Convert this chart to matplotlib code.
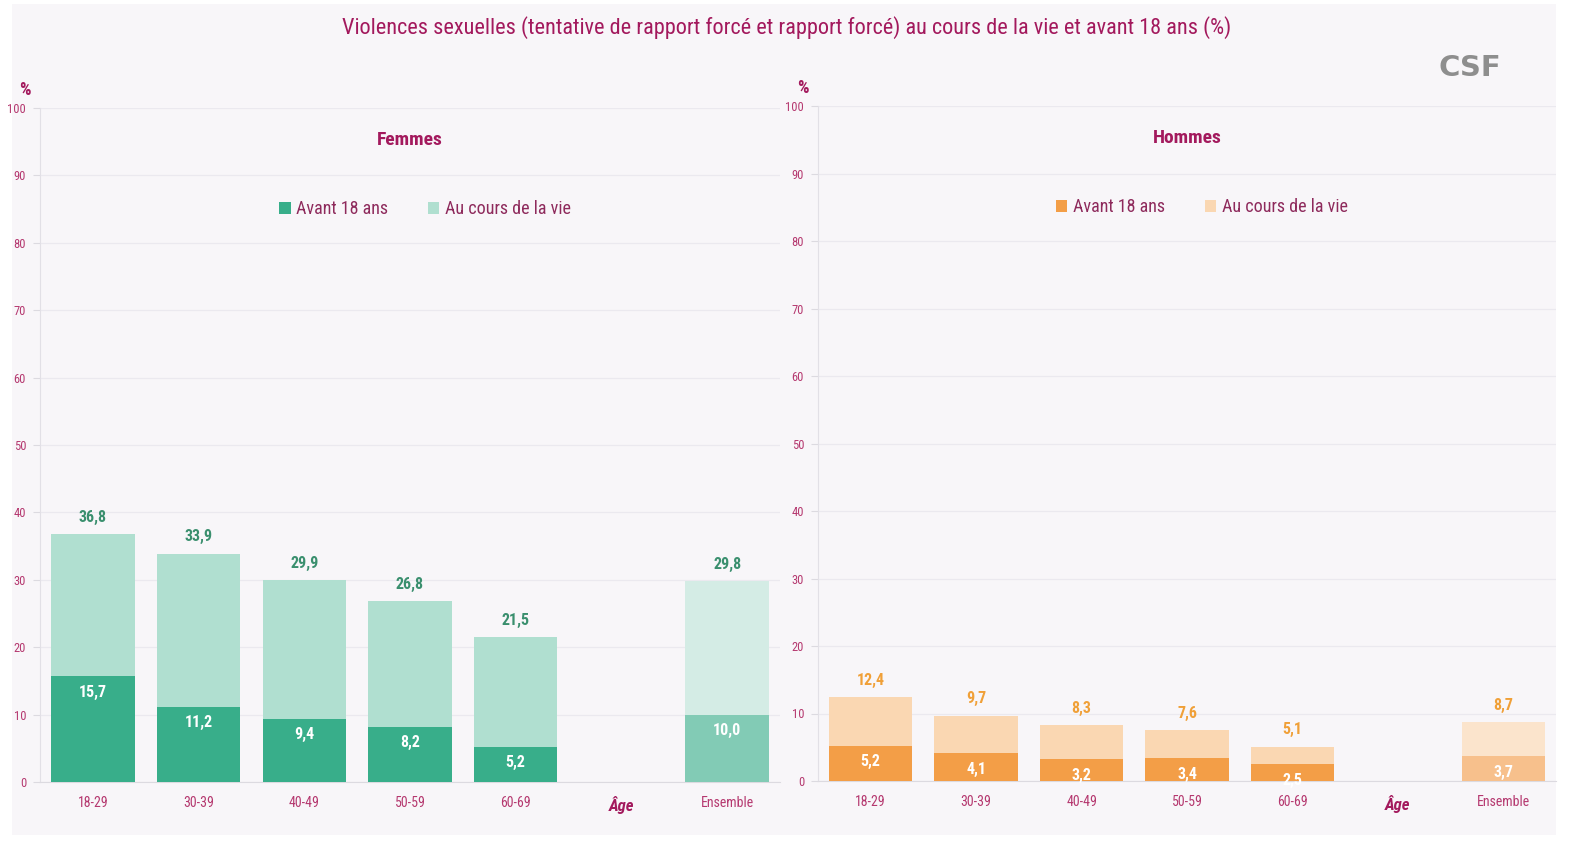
import matplotlib
matplotlib.use("Agg")
import matplotlib.pyplot as plt
from matplotlib.patches import Rectangle, Patch
from matplotlib import font_manager

# ---- data ----
categories = ["18-29", "30-39", "40-49", "50-59", "60-69", "Âge", "Ensemble"]
femmes_vie = [36.8, 33.9, 29.9, 26.8, 21.5, None, 29.8]
femmes_avant18 = [15.7, 11.2, 9.4, 8.2, 5.2, None, 10.0]
hommes_vie = [12.4, 9.7, 8.3, 7.6, 5.1, None, 8.7]
hommes_avant18 = [5.2, 4.1, 3.2, 3.4, 2.5, None, 3.7]
yticks = [0, 10, 20, 30, 40, 50, 60, 70, 80, 90, 100]
title = "Violences sexuelles (tentative de rapport forcé et rapport forcé) au cours de la vie et avant 18 ans (%)"

avail = {f.name for f in font_manager.fontManager.ttflist}
cands = ["Liberation Sans Narrow", "Roboto Condensed", "Open Sans Condensed", "Roboto", "DejaVu Sans"]
FONT = [c for c in cands if c in avail] + ["DejaVu Sans"]
plt.rcParams["font.family"] = FONT

MAG = "#a3195d"
TICK = "#b5386f"
BG = "#f8f6f9"

fig = plt.figure(figsize=(15.88, 8.46), dpi=100)
fig.patch.set_facecolor("white")
fig.patches.append(Rectangle((12/1588, 1-835/846), (1556-12)/1588, (835-4)/846,
                             transform=fig.transFigure, facecolor=BG, edgecolor="none", zorder=-10))

fig.text(787/1588, 1-28/846, title, ha="center", va="center", fontsize=16, color=MAG)
fig.text(1470/1588, 1-68/846, "CSF", ha="center", va="center", fontsize=21,
         color="#8e8e8e", fontweight="bold", family=["DejaVu Sans"])

panels = [
    dict(rect=[40/1588, 1-782/846, 740/1588, 674/846], vie=femmes_vie, av=femmes_avant18,
         title="Femmes", dark="#38ae8a", light="#b0dfd0", edark="#82cbb5", elight="#d4ece5",
         lab="#3a8f6e", pct=(25, 90)),
    dict(rect=[818/1588, 1-781/846, 738/1588, 675/846], vie=hommes_vie, av=hommes_avant18,
         title="Hommes", dark="#f39e47", light="#fad7b2", edark="#f7c08c", elight="#fbe4cc",
         lab="#f0a038", pct=(803, 88)),
]

for p in panels:
    ax = fig.add_axes(p["rect"])
    ax.set_facecolor("none")
    xs = [i for i, v in enumerate(p["vie"]) if v is not None]
    vie = [p["vie"][i] for i in xs]
    av = [p["av"][i] for i in xs]
    dcols = [p["edark"] if categories[i] == "Ensemble" else p["dark"] for i in xs]
    lcols = [p["elight"] if categories[i] == "Ensemble" else p["light"] for i in xs]
    ax.bar(xs, vie, width=0.79, color=lcols, zorder=2)
    ax.bar(xs, av, width=0.79, color=dcols, zorder=3)
    for x, v, a in zip(xs, vie, av):
        ax.annotate(f"{v:.1f}".replace(".", ","), (x, v), xytext=(0, 12), textcoords="offset points",
                    ha="center", va="center", fontsize=11.5, fontweight="bold", color=p["lab"], zorder=4)
        ax.annotate(f"{a:.1f}".replace(".", ","), (x, a), xytext=(0, -11.5), textcoords="offset points",
                    ha="center", va="center", fontsize=11.5, fontweight="bold", color="white", zorder=4)
    ax.set_xlim(-0.5, len(categories) - 0.5)
    ax.set_ylim(0, 100)
    ax.set_yticks(yticks)
    ax.set_yticklabels([str(t) for t in yticks])
    ax.set_xticks(range(len(categories)))
    ax.set_xticklabels(categories)
    ax.tick_params(axis="y", colors="#dcdae0", labelcolor=TICK, labelsize=9, length=5, width=0.8, pad=5)
    ax.tick_params(axis="x", length=0, labelcolor=TICK, labelsize=10, pad=10)
    for lbl in ax.get_xticklabels():
        if lbl.get_text() == "Âge":
            lbl.set_fontweight("bold")
            lbl.set_fontstyle("italic")
            lbl.set_fontsize(12)
            lbl.set_color(MAG)
    ax.grid(axis="y", color="#ebe9ef", linewidth=0.9, zorder=0)
    ax.set_axisbelow(True)
    for s in ["top", "right"]:
        ax.spines[s].set_visible(False)
    ax.spines["left"].set_color("#e2e0e6")
    ax.spines["bottom"].set_color("#dcdae0")
    ax.text(0.5, 0.953, p["title"], transform=ax.transAxes, ha="center", va="center",
            fontsize=14, fontweight="bold", color=MAG)
    handles = [Patch(facecolor=p["dark"], label="Avant 18 ans"),
               Patch(facecolor=p["light"], label="Au cours de la vie")]
    leg = ax.legend(handles=handles, loc="center", bbox_to_anchor=(0.52, 0.85), ncol=2, frameon=False,
                    fontsize=13, handlelength=0.65, handleheight=0.65, handletextpad=0.3, columnspacing=2.2)
    for t in leg.get_texts():
        t.set_color("#8e2a5c")
    fig.text(p["pct"][0]/1588, 1-p["pct"][1]/846, "%", ha="center", va="center",
             fontsize=13, fontweight="bold", color=MAG)

fig.savefig("out.png", dpi=100, facecolor=fig.get_facecolor())
